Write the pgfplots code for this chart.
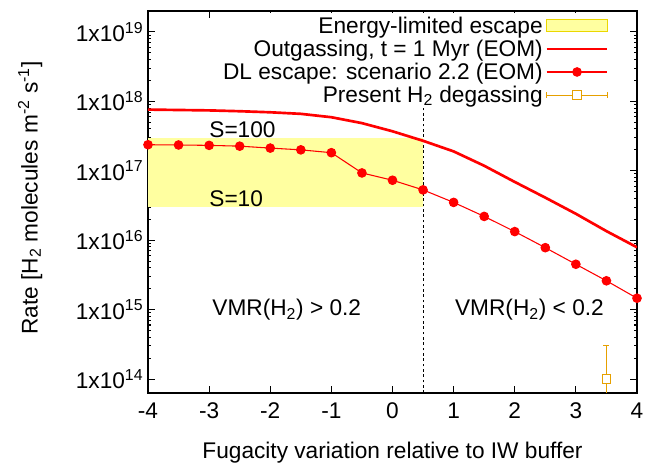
\documentclass[border=0pt]{standalone}
\usepackage{fontspec}
\setmainfont{Liberation Sans}
\usepackage{pgfplots}
\pgfplotsset{compat=1.18}

\definecolor{fillyel}{RGB}{255,255,160}
\definecolor{edgeyel}{RGB}{235,215,0}
\definecolor{dgorange}{RGB}{230,160,0}

\begin{document}
\begin{tikzpicture}[font=\fontsize{17}{18}\selectfont]
\begin{axis}[
  scale only axis, width=366.75pt, height=286.5pt,
  ymode=log, xmin=-4, xmax=4, ymin=6.3e13, ymax=2e19,
  xtick={-4,-3,-2,-1,0,1,2,3,4},
  xticklabels={-4,-3,-2,-1,0,1,2,3,4},
  xticklabel style={yshift=-4pt},
  ytick={1e14,1e15,1e16,1e17,1e18,1e19},
  yticklabels={1x10\textsuperscript{14},1x10\textsuperscript{15},1x10\textsuperscript{16},1x10\textsuperscript{17},1x10\textsuperscript{18},1x10\textsuperscript{19}},
  axis line style={line width=1.4pt},
  major tick length=5pt, minor tick length=2.5pt,
  tick style={black, line width=0.8pt},
  xlabel={Fugacity variation relative to IW buffer},
  ylabel={Rate [H\textsubscript{2} molecules m\textsuperscript{-2} s\textsuperscript{-1}]},
  xlabel style={at={(axis description cs:0.5,-0.155)}, anchor=center},
  ylabel style={at={(axis description cs:-0.241,0.51)}, anchor=center},
  legend style={at={(1,1)}, anchor=north east, xshift=-20pt, yshift=-1pt,
    draw=none, fill=white, cells={anchor=east}, legend plot pos=right,
    row sep=-0.5pt, inner sep=1pt, font=\fontsize{17}{18}\selectfont},
  legend image code/.code={\draw[mark repeat=2,mark phase=2,#1] plot coordinates {(0cm,0cm) (0.8cm,0cm) (1.6cm,0cm)};},
]
\addplot[fill=fillyel, draw=none,
  legend image code/.code={\draw[fill=fillyel, draw=edgeyel, line width=0.8pt] (0cm,-0.16cm) rectangle (1.6cm,0.16cm);}]
  coordinates {(-4,3e16) (0.5,3e16) (0.5,3e17) (-4,3e17)} -- cycle;
\addlegendentry{Energy-limited escape}

\addplot[black, line width=0.7pt, dash pattern=on 2pt off 2pt, forget plot]
  coordinates {(0.5,6.3e13) (0.5,2e19)};

\addplot[red, line width=2pt]
  coordinates {(-4,7.6e17) (-3.5,7.5e17) (-3,7.4e17) (-2.5,7.2e17) (-2,6.95e17) (-1.5,6.6e17) (-1,5.9e17) (-0.5,4.85e17) (0,3.7e17) (0.5,2.7e17) (1,1.9e17) (1.5,1.18e17) (2,6.9e16) (2.5,4.1e16) (3,2.4e16) (3.5,1.35e16) (4,7.9e15)};
\addlegendentry{Outgassing, t = 1 Myr (EOM)}

\addplot[red, line width=0.8pt, mark=*, mark size=3.2pt, mark options={solid}]
  coordinates {(-4,2.37e17) (-3.5,2.35e17) (-3,2.32e17) (-2.5,2.26e17) (-2,2.12e17) (-1.5,2.0e17) (-1,1.82e17) (-0.5,9.3e16) (0,7.3e16) (0.5,5.3e16) (1,3.5e16) (1.5,2.2e16) (2,1.33e16) (2.5,7.8e15) (3,4.5e15) (3.5,2.6e15) (4,1.46e15)};
\addlegendentry{DL escape: scenario 2.2 (EOM)}

\addplot[dgorange, line width=0.8pt, forget plot] coordinates {(3.5,3e14) (3.5,1e13)};
\addplot[dgorange, line width=0.8pt, forget plot] coordinates {(3.45,3e14) (3.55,3e14)};
\addplot[dgorange, line width=0.8pt, only marks, mark=square*, mark size=3.3pt, mark options={fill=white},
  legend image code/.code={\draw[dgorange, line width=0.8pt] (0cm,0cm) -- (1.6cm,0cm);
    \draw[dgorange, line width=0.8pt] (0cm,-0.07cm) -- (0cm,0.07cm) (1.6cm,-0.07cm) -- (1.6cm,0.07cm);
    \draw[dgorange, line width=0.8pt, fill=white] (0.8cm,0cm) ++(-3.3pt,-3.3pt) rectangle ++(6.6pt,6.6pt);}]
  coordinates {(3.5,1e14)};
\addlegendentry{Present H\textsubscript{2} degassing}

\node[anchor=base west, inner sep=0pt] at (axis cs:-3,3.05e17) {S=100};
\node[anchor=base west, inner sep=0pt] at (axis cs:-3,3.1e16) {S=10};
\node[anchor=base west, inner sep=0pt] at (axis cs:-2.95,8.2e14) {VMR(H\textsubscript{2}) > 0.2};
\node[anchor=base west, inner sep=0pt] at (axis cs:1.02,8.2e14) {VMR(H\textsubscript{2}) < 0.2};
\end{axis}
\pgfresetboundingbox
\path ([xshift=-111pt,yshift=-52.5pt]current axis.south west) rectangle ([xshift=6.75pt,yshift=8.25pt]current axis.north east);
\end{tikzpicture}
\end{document}
